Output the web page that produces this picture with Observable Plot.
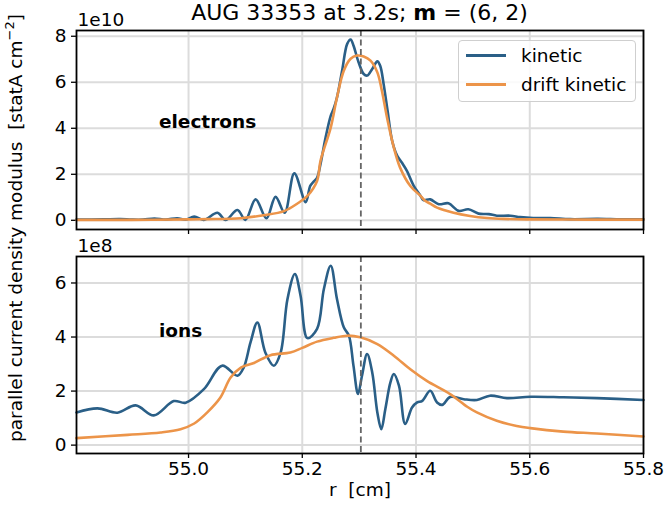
<!DOCTYPE html>
<html>
<head>
<meta charset="utf-8">
<script src="https://cdn.jsdelivr.net/npm/d3@7"></script>
<script src="https://cdn.jsdelivr.net/npm/@observablehq/plot@0.6"></script>
<style>
  html, body { margin: 0; padding: 0; background: white; }
  #chart { position: relative; width: 664px; height: 515px; font-family: "DejaVu Sans", sans-serif; color: black; overflow: hidden; }
  #chart > .panel { position: absolute; left: 0; }
  .title { position: absolute; left: 76px; width: 567px; top: 0px; text-align: center; font-size: 22px; line-height: 26px; white-space: nowrap; }
  .ylab { position: absolute; left: 14px; top: 228px; font-size: 18.5px; white-space: nowrap; transform: translate(-50%, -50%) rotate(-90deg); }
  .legend { position: absolute; left: 458px; top: 40px; width: 176px; height: 60px; border: 1px solid #cfcfcf; border-radius: 4px; background: rgba(255,255,255,0.85); font-size: 18.5px; }
  .legend .item { position: absolute; left: 7px; height: 22px; display: flex; align-items: center; }
  .legend .sw { width: 40px; height: 3px; margin-right: 15px; }
</style>
</head>
<body>
<div id="chart">
  <div class="title">AUG 33353 at 3.2s; <b>m</b> = (6, 2)</div>
  <div class="ylab">parallel current density modulus&nbsp; [statA cm<sup style="font-size:13px">−2</sup>]</div>
</div>
<script>
// ---------- data ----------
const xTicks = [55.0, 55.2, 55.4, 55.6, 55.8];
const eTicks = [0, 2, 4, 6, 8];
const iTicks = [0, 2, 4, 6];
const rResonance = 55.303;

const seriesNames = ["kinetic", "drift kinetic"];

// electrons (units of 1e10 statA cm^-2)
const rElecKin = [54.803, 54.85, 54.88, 54.90, 54.92, 54.94, 54.96, 54.98, 54.995, 55.010, 55.027, 55.051, 55.065, 55.086, 55.100, 55.118, 55.137, 55.153, 55.169, 55.186, 55.206, 55.214, 55.220, 55.226, 55.232, 55.241, 55.250, 55.255, 55.261, 55.270, 55.279, 55.285, 55.290, 55.299, 55.308, 55.314, 55.323, 55.332, 55.337, 55.343, 55.350, 55.358, 55.367, 55.375, 55.384, 55.396, 55.408, 55.413, 55.425, 55.440, 55.457, 55.475, 55.492, 55.510, 55.528, 55.542, 55.566, 55.583, 55.606, 55.636, 55.671, 55.72, 55.76, 55.80];
const elecKin  = [0.03, 0.04, 0.05, 0.03, 0.03, 0.08, 0.03, 0.09, 0.03, 0.16, 0.02, 0.33, 0.01, 0.45, 0.02, 0.91, 0.09, 1.02, 0.33, 2.04, 0.79, 1.50, 1.68, 1.85, 2.44, 3.60, 4.54, 4.84, 5.34, 6.50, 7.67, 7.86, 7.60, 6.87, 6.36, 6.29, 6.58, 6.91, 6.72, 5.93, 4.76, 3.46, 2.80, 2.51, 2.15, 1.50, 1.06, 0.88, 0.91, 0.70, 0.74, 0.41, 0.48, 0.29, 0.27, 0.20, 0.20, 0.14, 0.10, 0.10, 0.05, 0.06, 0.04, 0.04];
const rElecDk  = [54.803, 54.90, 55.00, 55.033, 55.092, 55.132, 55.168, 55.191, 55.209, 55.226, 55.232, 55.250, 55.261, 55.273, 55.285, 55.296, 55.308, 55.320, 55.332, 55.340, 55.349, 55.361, 55.372, 55.390, 55.408, 55.416, 55.425, 55.437, 55.466, 55.495, 55.525, 55.554, 55.60, 55.70, 55.80];
const elecDk   = [0.02, 0.02, 0.04, 0.05, 0.09, 0.22, 0.40, 0.72, 1.06, 1.71, 2.58, 4.03, 5.34, 6.50, 7.02, 7.16, 7.12, 6.94, 6.43, 5.63, 4.47, 3.16, 2.29, 1.49, 1.06, 0.85, 0.72, 0.55, 0.33, 0.19, 0.10, 0.06, 0.04, 0.03, 0.03];

// ions (units of 1e8 statA cm^-2)
const rIonKin = [54.803, 54.840, 54.875, 54.907, 54.939, 54.974, 54.995, 55.027, 55.059, 55.086, 55.097, 55.109, 55.121, 55.135, 55.150, 55.162, 55.174, 55.187, 55.197, 55.209, 55.226, 55.238, 55.250, 55.261, 55.273, 55.282, 55.290, 55.298, 55.305, 55.314, 55.323, 55.332, 55.339, 55.346, 55.355, 55.361, 55.370, 55.381, 55.393, 55.402, 55.411, 55.425, 55.437, 55.446, 55.460, 55.484, 55.507, 55.530, 55.560, 55.601, 55.659, 55.718, 55.800];
const ionKin  = [1.21, 1.36, 1.20, 1.47, 1.10, 1.63, 1.57, 2.07, 2.94, 2.57, 2.87, 3.80, 4.54, 3.43, 2.94, 3.43, 5.41, 6.33, 5.53, 3.96, 4.30, 5.78, 6.64, 5.41, 4.36, 4.05, 2.94, 1.89, 2.57, 3.37, 2.69, 1.21, 0.59, 1.33, 2.32, 2.63, 2.20, 0.78, 1.39, 1.58, 1.64, 2.01, 1.58, 1.49, 1.78, 1.70, 1.67, 1.83, 1.74, 1.79, 1.77, 1.74, 1.67];
const rIonDk  = [54.803, 54.893, 54.951, 54.986, 55.010, 55.033, 55.056, 55.074, 55.092, 55.115, 55.144, 55.179, 55.200, 55.226, 55.255, 55.279, 55.302, 55.332, 55.361, 55.390, 55.419, 55.460, 55.490, 55.507, 55.542, 55.577, 55.601, 55.659, 55.718, 55.800];
const ionDk   = [0.26, 0.38, 0.47, 0.59, 0.80, 1.21, 1.76, 2.50, 2.87, 3.04, 3.33, 3.43, 3.60, 3.83, 3.97, 4.05, 3.99, 3.74, 3.31, 2.81, 2.38, 1.89, 1.42, 1.21, 0.90, 0.71, 0.63, 0.50, 0.43, 0.32];

// ---------- styling ----------
const blue = "#2a5f87";
const orange = "#ec9449";
const gridColor = "#dcdcdc";
const xDomain = [54.803, 55.8];
const fs = 18.5;
const font = {fontFamily: "DejaVu Sans", fontSize: fs + "px", background: "transparent", overflow: "visible"};

const toRows = (rs, vs, name) => rs.map((r, i) => ({r, v: vs[i], series: name}));
const elecRows = [...toRows(rElecKin, elecKin, seriesNames[0]), ...toRows(rElecDk, elecDk, seriesNames[1])];
const ionRows  = [...toRows(rIonKin, ionKin, seriesNames[0]), ...toRows(rIonDk, ionDk, seriesNames[1])];
const colorOf = {[seriesNames[0]]: blue, [seriesNames[1]]: orange};

function panel({rows, yDomain, yTicks, height, marginTop, marginBottom, expLabel, tag, tagX, tagY, showXLabels}) {
  const marks = [
    Plot.gridX(xTicks, {stroke: gridColor, strokeOpacity: 1, strokeWidth: 2}),
    Plot.gridY(yTicks, {stroke: gridColor, strokeOpacity: 1, strokeWidth: 2}),
    Plot.axisY(yTicks, {tickSize: 5, tickPadding: 5, label: null, strokeWidth: 1.3, fontSize: fs}),
    Plot.axisX(xTicks, {
      tickSize: 5, tickPadding: 3, label: null, strokeWidth: 1.3, fontSize: fs,
      tickFormat: showXLabels ? (d => d.toFixed(1)) : (() => "")
    }),
    ...seriesNames.map(s => Plot.line(rows.filter(d => d.series === s), {
      x: "r", y: "v", stroke: colorOf[s], strokeWidth: 2.6, curve: "catmull-rom"
    })),
    Plot.ruleX([rResonance], {stroke: "#666666", strokeWidth: 1.8, strokeDasharray: "6,3.5"}),
    Plot.text([tag], {x: tagX, y: tagY, text: d => d, textAnchor: "start", fontWeight: "bold", fontSize: fs}),
    Plot.text([expLabel], {frameAnchor: "top-left", text: d => d, textAnchor: "start", dx: 1, dy: -18, fontSize: fs}),
    Plot.frame({stroke: "black", strokeWidth: 1.8})
  ];
  if (showXLabels) {
    marks.push(Plot.text(["r  [cm]"], {frameAnchor: "bottom", text: d => d, dy: 42, fontSize: fs}));
  }
  return Plot.plot({
    width: 664, height, marginTop, marginBottom, marginLeft: 76, marginRight: 21,
    style: font,
    x: {domain: xDomain},
    y: {domain: yDomain},
    marks
  });
}

const topPlot = panel({rows: elecRows, yDomain: [-0.4, 8.25], yTicks: eTicks, height: 240, marginTop: 30, marginBottom: 11,
  expLabel: "1e10", tag: "electrons", tagX: 54.948, tagY: 4.28, showXLabels: false});
const botPlot = panel({rows: ionRows, yDomain: [-0.31, 6.98], yTicks: iTicks, height: 275, marginTop: 16, marginBottom: 62,
  expLabel: "1e8", tag: "ions", tagX: 54.948, tagY: 4.23, showXLabels: true});

const chart = document.getElementById("chart");
topPlot.classList.add("panel"); topPlot.style.top = "0px";
botPlot.classList.add("panel"); botPlot.style.top = "240px";
chart.insertBefore(botPlot, chart.firstChild);
chart.insertBefore(topPlot, chart.firstChild);

// legend
const legend = document.createElement("div");
legend.className = "legend";
seriesNames.forEach((s, i) => {
  const item = document.createElement("div");
  item.className = "item";
  item.style.top = (3 + i * 29) + "px";
  const sw = document.createElement("span");
  sw.className = "sw";
  sw.style.background = colorOf[s];
  const t = document.createElement("span");
  t.textContent = s;
  item.appendChild(sw); item.appendChild(t);
  legend.appendChild(item);
});
chart.appendChild(legend);
</script>
</body>
</html>
